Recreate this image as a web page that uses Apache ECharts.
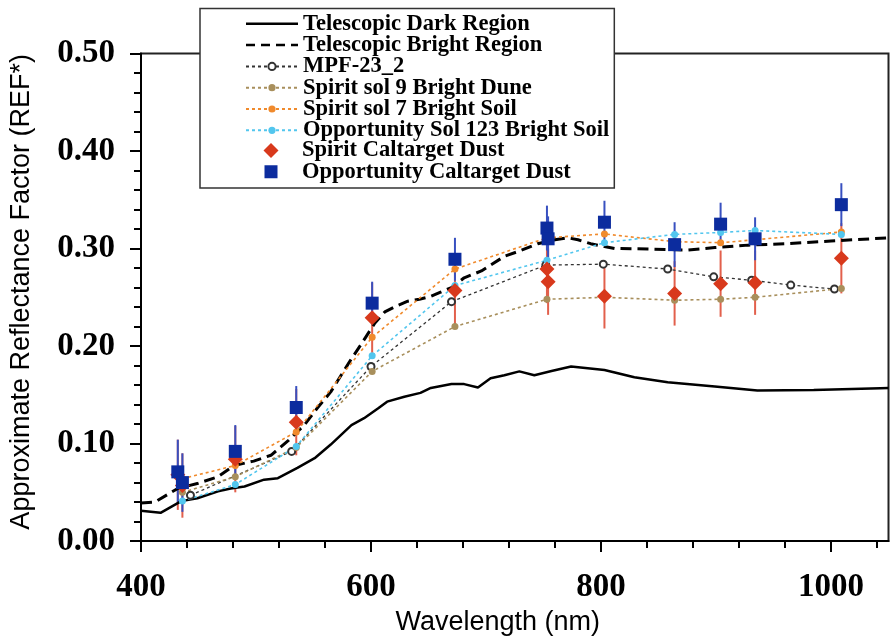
<!DOCTYPE html>
<html><head><meta charset="utf-8">
<script src="https://cdn.jsdelivr.net/npm/echarts@6/dist/echarts.min.js"></script>
<style>html,body{margin:0;padding:0;background:#fff}#c{width:890px;height:641px}</style>
</head><body><div id="c"></div>
<script>
// ---------- data ----------
const darkWl  = [400,417,435,449,467,478,490,507,519,536,551,565,583,594,606,614,629,643,652,670,681,693,704,716,729,742,757,774,803,829,858,899,936,985,1043,1050];
const darkRef = [0.031,0.029,0.041,0.044,0.051,0.054,0.056,0.063,0.0645,0.075,0.085,0.099,0.119,0.126,0.136,0.143,0.148,0.152,0.157,0.161,0.161,0.1575,0.167,0.170,0.174,0.170,0.1745,0.179,0.1755,0.168,0.163,0.1585,0.1544,0.155,0.1568,0.157];

const brightWl  = [400,412,432,449,467,481,498,513,528,542,553,565,574,583,591,603,612,622,632,642,652,660,670,681,696,704,716,728,745,760,771,780,791,803,812,841,875,899,928,962,1000,1050];
const brightRef = [0.039,0.040,0.054,0.059,0.066,0.0775,0.082,0.088,0.103,0.119,0.136,0.153,0.170,0.187,0.201,0.223,0.235,0.241,0.246,0.248,0.251,0.255,0.260,0.270,0.277,0.283,0.292,0.297,0.305,0.309,0.311,0.309,0.305,0.302,0.300,0.2995,0.2985,0.301,0.3035,0.305,0.3077,0.311];

const mpfWl  = [443,531,600,670,752,802,858,898,931,965,1003];
const mpfRef = [0.047,0.092,0.179,0.2455,0.283,0.284,0.279,0.271,0.2675,0.2625,0.2585];

const soilWl    = [436,482,535,601,673,753,803,864,904,934,1009];
const duneRef   = [0.050,0.066,0.096,0.174,0.220,0.248,0.250,0.247,0.248,0.250,0.259];
const sol7Ref   = [0.064,0.0775,0.112,0.209,0.279,0.311,0.315,0.307,0.306,0.309,0.317];
const sol123Ref = [0.041,0.058,0.097,0.190,0.262,0.288,0.306,0.3145,0.3165,0.3185,0.3145];

const calWl      = [432,436,482,535,601,673,753,754,803,864,904,934,1009];
const spiritDust = [0.068,0.057,0.084,0.122,0.229,0.257,0.279,0.266,0.251,0.254,0.264,0.265,0.290];
const spiritErr  = [0.036,0.033,0.034,0.034,0.036,0.037,0.035,0.034,0.033,0.033,0.034,0.033,0.036];
const oppDust    = [0.071,0.060,0.092,0.137,0.244,0.289,0.321,0.310,0.327,0.304,0.325,0.310,0.345];
const oppErr     = [0.033,0.030,0.027,0.022,0.022,0.022,0.023,0.023,0.022,0.023,0.022,0.022,0.022];

const xMajorTicks = [400,600,800,1000];
const xMinorTicks = [440,480,520,560,640,680,720,760,840,880,920,960,1040];

const names = ['Telescopic Dark Region','Telescopic Bright Region','MPF-23_2','Spirit sol 9 Bright Dune',
  'Spirit sol 7 Bright Soil','Opportunity Sol 123 Bright Soil','Spirit Caltarget Dust','Opportunity Caltarget Dust'];

// ---------- helpers ----------
const zip = (a,b) => a.map((v,i)=>[v,b[i]]);
const serifB = {fontFamily:'"Liberation Serif","Times New Roman",serif', fontWeight:'bold', color:'#000'};
const sans = {fontFamily:'"Liberation Sans",Arial,sans-serif', color:'#000'};

function dotted(name, wl, vals, color, symbol, lw){
  return {type:'line', name, data: zip(wl, vals), symbol, symbolSize: 7,
    lineStyle:{color, width: lw, type:[3,3]},
    itemStyle: symbol==='emptyCircle' ? {color, borderWidth:1.2} : {color},
    emphasis:{disabled:true}, z:2};
}
function errBars(name, wl, vals, errs, color){
  return {type:'custom', name, silent:true, z:2,
    data: wl.map((w,i)=>[w, vals[i]-errs[i], vals[i]+errs[i]]),
    encode:{x:0, y:[1,2]},
    renderItem:(params, api)=>{
      const lo = api.coord([api.value(0), api.value(1)]);
      const hi = api.coord([api.value(0), api.value(2)]);
      return {type:'line', shape:{x1:lo[0],y1:lo[1],x2:hi[0],y2:hi[1]}, style:{stroke:color, lineWidth:2}};
    }};
}

const legendText = {...serifB, fontSize:22.5};
const chart = echarts.init(document.getElementById('c'), null, {renderer:'canvas'});
const option = {
  animation:false,
  backgroundColor:'#fff',
  grid:{left:139.5, right:1.5, top:53.5, bottom:98.3, show:true, borderColor:'#222', borderWidth:2, backgroundColor:'transparent'},
  xAxis:[{
    type:'value', min:400, max:1050, position:'bottom',
    axisLine:{lineStyle:{color:'#000', width:2}},
    axisTick:{length:11, lineStyle:{color:'#000', width:2}, customValues:xMajorTicks},
    axisLabel:{...serifB, fontSize:33, margin:30, customValues:xMajorTicks, formatter:v=>String(v)},
    splitLine:{show:false},
    name:'Wavelength (nm)', nameLocation:'middle', nameGap:67,
    nameTextStyle:{...sans, fontSize:27, padding:[0,34,0,0]}
  },{
    type:'value', min:400, max:1050, position:'bottom', offset:0,
    axisLine:{show:false},
    axisTick:{length:7, lineStyle:{color:'#000', width:2}, customValues:xMinorTicks},
    axisLabel:{show:false}, splitLine:{show:false}
  }],
  yAxis:{
    type:'value', min:0, max:0.5, interval:0.1,
    axisLine:{lineStyle:{color:'#000', width:2}},
    axisTick:{length:11, lineStyle:{color:'#000', width:2}},
    minorTick:{show:true, splitNumber:5, length:7, lineStyle:{color:'#000', width:2}},
    axisLabel:{...serifB, fontSize:33, margin:26, formatter:v=>v.toFixed(2)},
    splitLine:{show:false},
    name:'Approximate Reflectance Factor (REF*)', nameLocation:'middle', nameRotate:90, nameGap:106,
    nameTextStyle:{...sans, fontSize:27, padding:[0,0,0,11]}
  },
  legend:[{
    orient:'vertical', left:200, top:8.5, padding:[3.8,5,46.1,45],
    itemWidth:52, itemHeight:9, itemGap:-1.7,
    backgroundColor:'#fff', borderColor:'#333', borderWidth:1.5,
    textStyle:legendText,
    itemStyle:{borderWidth:0},
    data:[
      {name:names[0], icon:'path://M0,0M52,9M0,3.25H52V5.75H0Z'},
      {name:names[1], icon:'path://M0,0M52,9M0,3.25h9v2.5h-9zM15,3.25h9v2.5h-9zM30,3.25h9v2.5h-9zM45,3.25h7v2.5h-7z'},
      names[2], names[3], names[4], names[5]
    ]
  },{
    orient:'vertical', left:200, top:138.9, padding:[0,0,0,45],
    itemWidth:52, itemHeight:15, itemGap:-1.7,
    textStyle:legendText,
    itemStyle:{borderWidth:0},
    data:[
      {name:names[6], icon:'path://M0,0M52,15M18,7.5L26,-0.5L34,7.5L26,15.5ZM52,0'},
      {name:names[7], icon:'path://M0,0M52,15M19.5,1H32.5V14H19.5ZM52,0'}
    ]
  }],
  series:[
    {type:'line', name:names[0], data:zip(darkWl,darkRef), symbol:'none', color:'#000',
      lineStyle:{color:'#000', width:2.5}, z:2},
    {type:'line', name:names[1], data:zip(brightWl,brightRef), symbol:'none', color:'#000',
      lineStyle:{color:'#000', width:3, type:[11,6]}, z:2},
    dotted(names[2], mpfWl, mpfRef, '#333', 'emptyCircle', 1.3),
    dotted(names[3], soilWl, duneRef, '#a88f5c', 'circle', 1.6),
    dotted(names[4], soilWl, sol7Ref, '#f08a2c', 'circle', 1.6),
    dotted(names[5], soilWl, sol123Ref, '#52c6ee', 'circle', 1.6),
    errBars('errSpirit', calWl, spiritDust, spiritErr, '#e2604c'),
    errBars('errOpp', calWl, oppDust, oppErr, '#3850c0'),
    {type:'scatter', name:names[6], data:zip(calWl,spiritDust), symbol:'diamond', symbolSize:15,
      itemStyle:{color:'#d8391c', opacity:1}, z:2},
    {type:'scatter', name:names[7], data:zip(calWl,oppDust), symbol:'rect', symbolSize:13,
      itemStyle:{color:'#0c2c9e', opacity:1}, z:2}
  ]
};
chart.setOption(option);
</script>
</body></html>
